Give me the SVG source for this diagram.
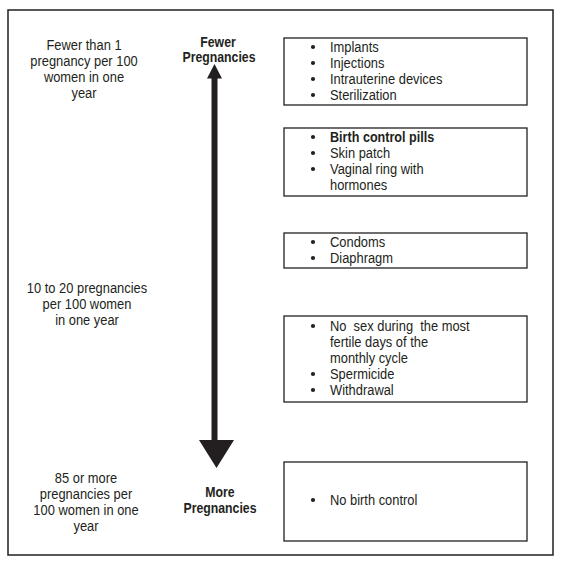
<svg xmlns="http://www.w3.org/2000/svg" width="568" height="563" viewBox="0 0 568 563">
<style>
text{font-family:"Liberation Sans",Arial,sans-serif;font-size:15px;fill:#231f20}
.c{text-anchor:middle}
.b{font-weight:bold}
.box{fill:#fff;stroke:#231f20;stroke-width:1.3}
.dot{fill:#231f20}
</style>
<defs>
<circle id="bul" r="2.1" class="dot"/>
</defs>
<rect x="0" y="0" width="568" height="563" fill="#fff"/>
<rect id="frame" x="8" y="10" width="545" height="545" fill="none" stroke="#231f20" stroke-width="1.5"/>

<g id="rates">
<text class="c" transform="translate(84 50) scale(0.86 1)">Fewer than 1</text>
<text class="c" transform="translate(84 66) scale(0.86 1)">pregnancy per 100</text>
<text class="c" transform="translate(84 82) scale(0.86 1)">women in one</text>
<text class="c" transform="translate(84 98) scale(0.86 1)">year</text>
<text class="c" transform="translate(87 293) scale(0.86 1)">10 to 20 pregnancies</text>
<text class="c" transform="translate(87 309) scale(0.86 1)">per 100 women</text>
<text class="c" transform="translate(87 325) scale(0.86 1)">in one year</text>
<text class="c" transform="translate(86 483) scale(0.86 1)">85 or more</text>
<text class="c" transform="translate(86 499) scale(0.86 1)">pregnancies per</text>
<text class="c" transform="translate(86 515) scale(0.86 1)">100 women in one</text>
<text class="c" transform="translate(86 531) scale(0.86 1)">year</text>
</g>

<g id="connectors">
<path d="M214.5 64 L222 78.5 L217.5 78.5 L217.5 440 L234 440 L216.5 468 L199 440 L211.5 440 L211.5 78.5 L207 78.5 Z" fill="#231f20"/>
</g>

<g id="label-fewer">
<text class="c b" transform="translate(218 47) scale(0.82 1)">Fewer</text>
<text class="c b" transform="translate(219 62) scale(0.82 1)">Pregnancies</text>
</g>
<g id="label-more">
<text class="c b" transform="translate(220 497) scale(0.82 1)">More</text>
<text class="c b" transform="translate(220 513) scale(0.82 1)">Pregnancies</text>
</g>

<g id="box1">
<rect class="box" x="284" y="38" width="243" height="67"/>
<use href="#bul" x="313" y="47"/>
<use href="#bul" x="313" y="63"/>
<use href="#bul" x="313" y="79"/>
<use href="#bul" x="313" y="95"/>
<text transform="translate(330 52) scale(0.86 1)">Implants</text>
<text transform="translate(330 68) scale(0.86 1)">Injections</text>
<text transform="translate(330 84) scale(0.86 1)">Intrauterine devices</text>
<text transform="translate(330 100) scale(0.86 1)">Sterilization</text>
</g>

<g id="box2">
<rect class="box" x="284" y="128" width="243" height="68"/>
<use href="#bul" x="313" y="137"/>
<use href="#bul" x="313" y="153"/>
<use href="#bul" x="313" y="169"/>
<text class="b" transform="translate(330 142) scale(0.84 1)">Birth control pills</text>
<text transform="translate(330 158) scale(0.86 1)">Skin patch</text>
<text transform="translate(330 174) scale(0.86 1)">Vaginal ring with</text>
<text transform="translate(330 190) scale(0.86 1)">hormones</text>
</g>

<g id="box3">
<rect class="box" x="284" y="233" width="243" height="35"/>
<use href="#bul" x="313" y="242"/>
<use href="#bul" x="313" y="258"/>
<text transform="translate(330 247) scale(0.86 1)">Condoms</text>
<text transform="translate(330 263) scale(0.86 1)">Diaphragm</text>
</g>

<g id="box4">
<rect class="box" x="284" y="316" width="243" height="86"/>
<use href="#bul" x="313" y="326"/>
<use href="#bul" x="313" y="374"/>
<use href="#bul" x="313" y="390"/>
<text transform="translate(330 331) scale(0.86 1)" xml:space="preserve">No  sex during  the most</text>
<text transform="translate(330 347) scale(0.86 1)">fertile days of the</text>
<text transform="translate(330 363) scale(0.86 1)">monthly cycle</text>
<text transform="translate(330 379) scale(0.86 1)">Spermicide</text>
<text transform="translate(330 395) scale(0.86 1)">Withdrawal</text>
</g>

<g id="box5">
<rect class="box" x="284" y="462" width="243" height="79"/>
<use href="#bul" x="313" y="500"/>
<text transform="translate(330 505) scale(0.86 1)">No birth control</text>
</g>
</svg>
